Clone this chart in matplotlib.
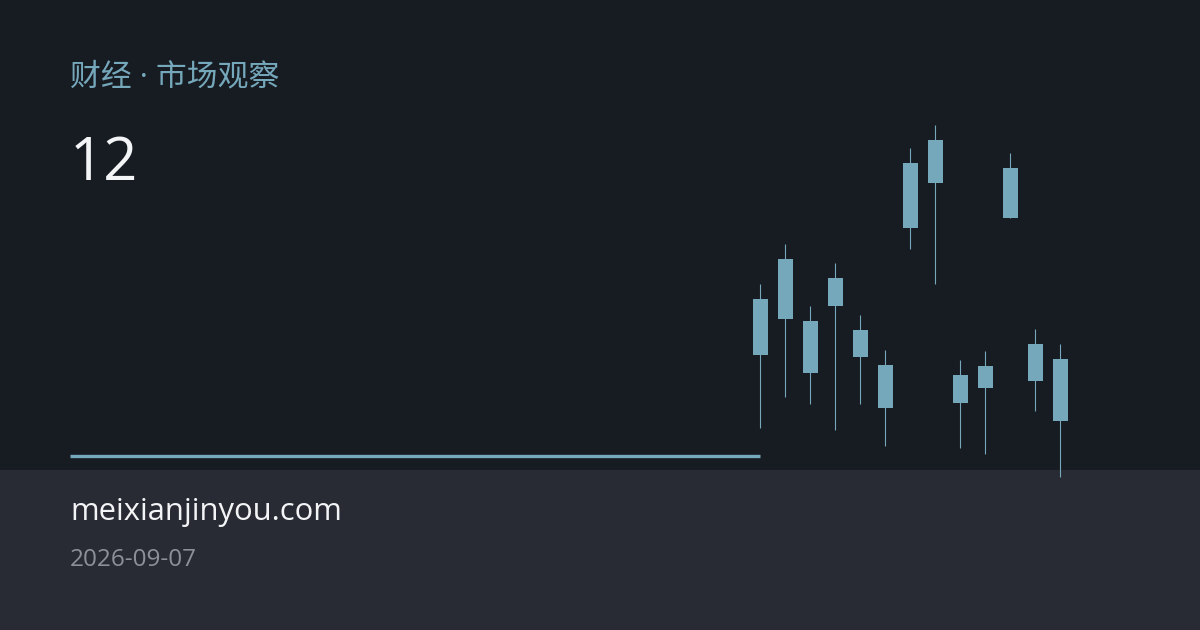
import matplotlib.pyplot as plt
from matplotlib.patches import Rectangle

plt.rcParams['font.family'] = ['Open Sans', 'Noto Sans CJK SC', 'DejaVu Sans']

# candle data (same colour for all candles)
opens = [67.1, 71.1, 64.9, 69.2, 64.0, 60.5, 80.7, 83.0, 59.5, 60.4, 80.2, 62.6, 61.1]
closes = [61.5, 65.1, 59.7, 66.4, 61.3, 56.2, 74.2, 78.7, 56.7, 58.2, 75.2, 58.9, 54.9]
highs = [68.6, 72.6, 66.4, 70.7, 65.5, 62.0, 82.2, 84.5, 61.0, 61.9, 81.7, 64.1, 62.6]
lows = [54.2, 57.3, 56.6, 54.0, 56.6, 52.4, 72.1, 68.6, 52.2, 51.6, 75.2, 55.9, 49.3]

kicker = '财经 · 市场观察'
headline = '12'
site = 'meixianjinyou.com'
date = '2026-09-07'

bg_top = '#171b22'
bg_foot = '#282b33'
accent = '#75a8bb'

W, H = 1200, 630
fig = plt.figure(figsize=(12, 6.3), dpi=100, facecolor=bg_top)

# background layer in pixel coordinates
bg = fig.add_axes([0, 0, 1, 1])
bg.set_xlim(0, W)
bg.set_ylim(H, 0)
bg.axis('off')
bg.add_patch(Rectangle((0, 470), W, H - 470, color=bg_foot, lw=0, zorder=0))
bg.plot([70, 760], [456, 456], color=accent, lw=2.4, solid_capstyle='butt')

bg.text(70, 77, kicker, color=accent, fontsize=22.2, va='center', ha='left',
        family=['Open Sans', 'Noto Sans CJK SC', 'DejaVu Sans'])
bg.text(70, 180, headline, color='#f2f4f6', fontsize=43, va='baseline', ha='left')
bg.text(70, 520, site, color='#f2f4f6', fontsize=22.3, va='baseline', ha='left')
bg.text(70, 566, date, color='#8c9199', fontsize=17.5, va='baseline', ha='left')

# candlestick layer
ax = fig.add_axes([740 / W, (H - 490) / H, 340 / W, 390 / H])
ax.patch.set_alpha(0)
ax.axis('off')
ax.set_xlim(-0.8, 12.8)
ax.set_ylim(48, 87)
x = range(len(opens))
bottoms = [min(o, c) for o, c in zip(opens, closes)]
heights = [abs(o - c) for o, c in zip(opens, closes)]
ax.vlines(x, lows, highs, color=accent, lw=0.8)
ax.bar(x, heights, bottom=bottoms, width=0.6, color=accent, lw=0)

fig.savefig('out.png', dpi=100, facecolor=bg_top)
